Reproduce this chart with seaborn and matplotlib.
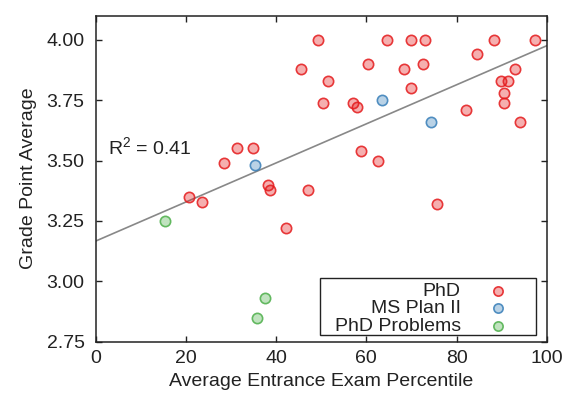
import numpy as np
import pandas as pd
import seaborn as sns
import matplotlib.pyplot as plt
from matplotlib.colors import to_rgba
from matplotlib.patches import Rectangle

# values
phd_pct = [49.2, 64.5, 69.8, 73.0, 88.3, 97.3, 45.5, 60.3, 68.4, 72.6,
           84.6, 51.5, 92.9, 89.8, 91.4, 90.6, 90.6, 69.8, 50.3, 57.1,
           58.0, 82.0, 94.0, 58.8, 62.5, 31.3, 34.8, 28.5, 20.6, 23.5,
           38.1, 38.7, 47.0, 42.3, 75.7]
phd_gpa = [4.00, 4.00, 4.00, 4.00, 4.00, 4.00, 3.88, 3.90, 3.88, 3.90,
           3.94, 3.83, 3.88, 3.83, 3.83, 3.78, 3.74, 3.80, 3.74, 3.74,
           3.72, 3.71, 3.66, 3.54, 3.50, 3.55, 3.55, 3.49, 3.35, 3.33,
           3.40, 3.38, 3.38, 3.22, 3.32]
ms_pct = [35.3, 63.4, 74.3]
ms_gpa = [3.48, 3.75, 3.66]
prob_pct = [15.3, 37.5, 35.8]
prob_gpa = [3.25, 2.93, 2.85]

groups = ["PhD", "MS Plan II", "PhD Problems"]
colors = ["#e41a1c", "#377eb8", "#4daf4a"]
r2_text = "R$^{2}$ = 0.41"
xticks = [0, 20, 40, 60, 80, 100]
yticks = [2.75, 3.00, 3.25, 3.50, 3.75, 4.00]

df = pd.DataFrame({
    "pct": phd_pct + ms_pct + prob_pct,
    "gpa": phd_gpa + ms_gpa + prob_gpa,
    "group": ["PhD"] * len(phd_pct) + ["MS Plan II"] * len(ms_pct)
             + ["PhD Problems"] * len(prob_pct),
})

sns.set_style("ticks")
plt.rcParams["font.family"] = ["Liberation Sans", "DejaVu Sans"]
plt.rcParams["mathtext.fontset"] = "custom"
plt.rcParams["mathtext.rm"] = "Liberation Sans"
plt.rcParams["mathtext.it"] = "Liberation Sans:italic"
ink = "#222222"
fs = 14

fig = plt.figure(figsize=(5.67, 3.98), dpi=100)
ax = fig.add_axes([0.1688, 0.1415, 0.7954, 0.8191])
ax.set_xlim(0, 100)
ax.set_ylim(2.75, 4.1)

# fit over every student, drawn across the full x range
sns.regplot(data=df, x="pct", y="gpa", scatter=False, ci=None, truncate=False,
            color="#888888", line_kws={"lw": 1.2}, ax=ax)

for g, c in zip(groups, colors):
    sub = df[df["group"] == g]
    ax.scatter(sub["pct"], sub["gpa"], s=55, facecolor=to_rgba(c, 0.35),
               edgecolor=to_rgba(c, 0.85), linewidth=1.2, zorder=4, label=g)

ax.text(2.7, 3.555, r2_text, fontsize=fs, va="center", ha="left", color=ink)

ax.set_xticks(xticks)
ax.set_yticks(yticks)
ax.set_yticklabels([f"{v:.2f}" for v in yticks])
ax.tick_params(direction="in", length=4.5, width=1, labelsize=fs,
               top=True, right=True, colors=ink)
ax.tick_params(axis="x", pad=6)
ax.tick_params(axis="y", pad=8)
for s in ax.spines.values():
    s.set_visible(True)
    s.set_linewidth(1.1)
    s.set_color(ink)

ax.set_xlabel("Average Entrance Exam Percentile", fontsize=fs, color=ink,
              labelpad=4)
ax.set_ylabel("Grade Point Average", fontsize=fs, color=ink, labelpad=7)

# markerfirst=False right-aligns the labels, as in the reference
leg = ax.legend(loc="lower right", bbox_to_anchor=(0.914, 0.021),
                borderaxespad=0, markerfirst=False, fontsize=fs,
                labelspacing=0.0, handletextpad=1.43, borderpad=0,
                handlelength=1.0, frameon=False, markerscale=0.9)
for t in leg.get_texts():
    t.set_color(ink)
# the key box is wider than the entries, with more room on the left
ax.add_patch(Rectangle((0.4973, 0.0215), 0.479, 0.174, transform=ax.transAxes,
                       fill=False, edgecolor=ink, lw=1.0, zorder=5))

fig.savefig("out.png", dpi=100)
